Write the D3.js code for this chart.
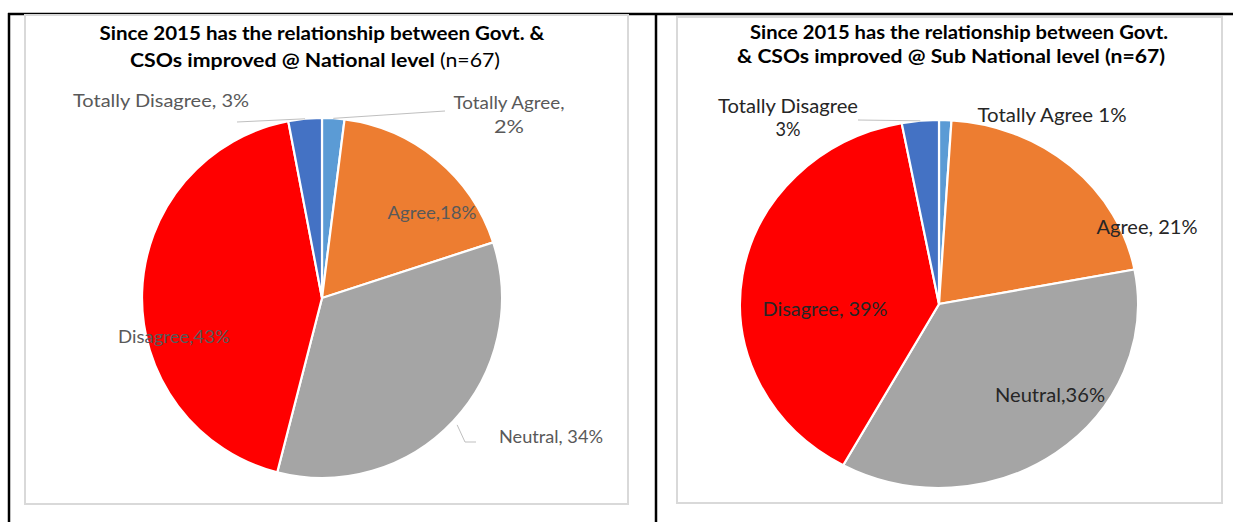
<!DOCTYPE html>
<html>
<head>
<meta charset="utf-8">
<script src="https://cdn.jsdelivr.net/npm/d3@7"></script>
<style>
  html, body { margin: 0; padding: 0; background: #fff; }
  svg { display: block; }
</style>
</head>
<body>
<svg id="chart" width="1233" height="522"></svg>
<script>
// Survey responses, slices run clockwise from 12 o'clock
const categories = ["Totally Agree", "Agree", "Neutral", "Disagree", "Totally Disagree"];
const nationalValues = [2, 18, 34, 43, 3];
const subNationalValues = [1, 21, 36, 39, 3];
// Text placed between category name and percentage in each label
const nationalSeparators = [",\n", ",", ", ", ",", ", "];
const subNationalSeparators = [" ", ", ", ",", ", ", "\n"];
const nationalTitle = [["Since 2015 has the relationship  between Govt. &", ""], ["CSOs improved @ National level ", "(n=67)"]];
const subNationalTitle = [["Since 2015 has the relationship between Govt.", ""], ["& CSOs improved @ Sub National level (n=67)", ""]];

const sliceColors = ["#5B9BD5", "#ED7D31", "#A5A5A5", "#FF0000", "#4472C4"];
const svg = d3.select("#chart");
const FONT = "Lato, 'Open Sans', sans-serif";

// Table-style black rules
const rules = [[8, 14, 1233, 14], [9, 13, 9, 522], [656, 13, 656, 522]];
svg.selectAll("line.rule").data(rules).join("line")
  .attr("x1", d => d[0]).attr("y1", d => d[1]).attr("x2", d => d[2]).attr("y2", d => d[3])
  .attr("stroke", "#000").attr("stroke-width", 2.5);

// Condensed-face look: stretch a text run to a set width
function fit(sel, w) {
  if (w) sel.attr("textLength", w).attr("lengthAdjust", "spacingAndGlyphs");
  return sel;
}

function drawPie(cfg) {
  const g = svg.append("g");
  g.append("rect").attr("x", cfg.frame[0]).attr("y", cfg.frame[1])
    .attr("width", cfg.frame[2]).attr("height", cfg.frame[3])
    .attr("fill", "#fff").attr("stroke", "#D9D9D9").attr("stroke-width", 2);

  // Title lines (bold part + regular part)
  cfg.title.forEach((parts, i) => {
    const t = g.append("text").attr("x", cfg.titleX[i]).attr("y", cfg.titleY[i])
      .attr("text-anchor", "middle").attr("font-family", FONT)
      .attr("font-size", cfg.titleSize).attr("fill", "#000");
    t.append("tspan").attr("font-weight", "bold").text(parts[0]);
    if (parts[1]) t.append("tspan").attr("font-weight", "normal").text(parts[1]);
    fit(t, cfg.titleW[i]);
  });

  const data = categories.map((c, i) => ({ category: c, value: cfg.values[i], sep: cfg.separators[i], color: sliceColors[i] }));
  const pie = d3.pie().sort(null).value(d => d.value);
  const R = 100;
  const arc = d3.arc().innerRadius(0).outerRadius(R);
  const arcs = pie(data);

  const pg = g.append("g")
    .attr("transform", `translate(${cfg.cx},${cfg.cy}) scale(${cfg.rx / R},${cfg.ry / R})`);
  pg.selectAll("path").data(arcs).join("path")
    .attr("d", arc).attr("fill", d => d.data.color)
    .attr("stroke", "#fff").attr("stroke-width", 2.2)
    .attr("vector-effect", "non-scaling-stroke");

  // Point on the rim at a slice's mid angle (page coordinates)
  const rim = (a, k = 1) => {
    const m = (a.startAngle + a.endAngle) / 2;
    return [cfg.cx + k * cfg.rx * Math.sin(m), cfg.cy - k * cfg.ry * Math.cos(m)];
  };

  arcs.forEach(a => {
    const lay = cfg.labels[a.data.category];
    const lines = (a.data.category + a.data.sep + a.data.value + "%").split("\n");
    lines.forEach((s, i) => {
      const t = g.append("text").attr("font-family", FONT).attr("font-size", cfg.labelSize)
        .attr("fill", cfg.labelColor).attr("text-anchor", "middle")
        .attr("x", lay.x).attr("y", lay.y + i * cfg.lineGap).text(s);
      fit(t, lay.w[i]);
    });
    if (lay.leader) {
      const p0 = rim(a, lay.leader.k || 1);
      const pts = [p0].concat(lay.leader.pts);
      g.append("path").attr("d", d3.line()(pts)).attr("fill", "none")
        .attr("stroke", "#BFBFBF").attr("stroke-width", 1);
    }
  });
}

drawPie({
  frame: [25, 15, 603, 489],
  title: nationalTitle, titleX: [322, 315], titleY: [40, 67], titleSize: 19, titleW: [445, 370],
  values: nationalValues, separators: nationalSeparators,
  cx: 322, cy: 298, rx: 180, ry: 180,
  labelSize: 17, labelColor: "#595959", lineGap: 24,
  labels: {
    "Totally Agree": { x: 509, y: 109, w: [111, 30], leader: { pts: [[445, 111]] } },
    "Agree": { x: 432, y: 219, w: [89] },
    "Neutral": { x: 551, y: 443, w: [104], leader: { k: 1.03, pts: [[465, 442], [476, 442]] } },
    "Disagree": { x: 174, y: 343, w: [112] },
    "Totally Disagree": { x: 161, y: 107, w: [176], leader: { pts: [[237, 122]] } }
  }
});

drawPie({
  frame: [677, 17, 545, 486],
  title: subNationalTitle, titleX: [959, 951], titleY: [39, 63], titleSize: 19, titleW: [418, 428],
  values: subNationalValues, separators: subNationalSeparators,
  cx: 939, cy: 304, rx: 199, ry: 184,
  labelSize: 18.5, labelColor: "#262626", lineGap: 23,
  labels: {
    "Totally Agree": { x: 1052, y: 122, w: [149] },
    "Agree": { x: 1147, y: 234, w: [101] },
    "Neutral": { x: 1050, y: 402, w: [110] },
    "Disagree": { x: 825, y: 316, w: [125] },
    "Totally Disagree": { x: 788, y: 113, w: [140, 25], leader: { pts: [[858, 120]] } }
  }
});
</script>
</body>
</html>
